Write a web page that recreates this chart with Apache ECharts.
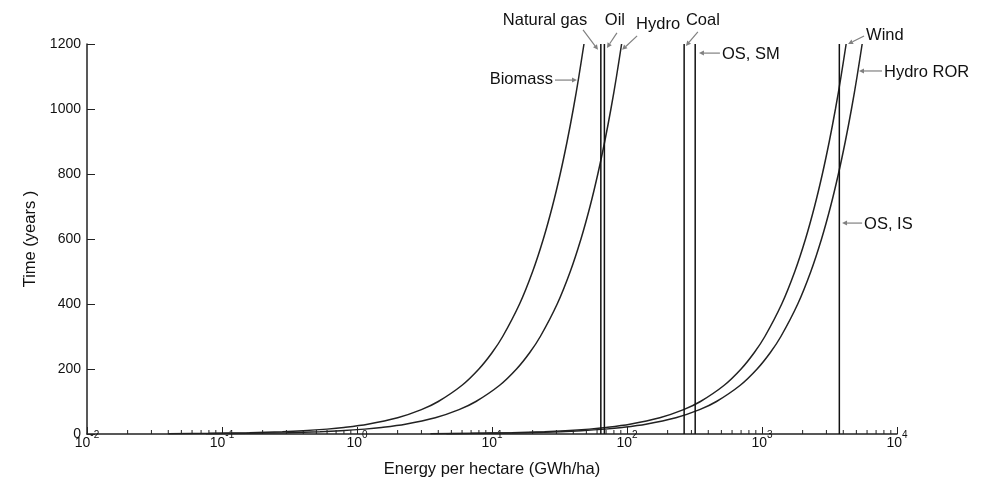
<!DOCTYPE html>
<html>
<head>
<meta charset="utf-8">
<script src="https://cdn.jsdelivr.net/npm/echarts@6/dist/echarts.min.js"></script>
<style>
  html, body { margin: 0; padding: 0; background: #fff; }
  #chart { width: 986px; height: 479px; }
</style>
</head>
<body>
<div id="chart"></div>
<script>
// Cumulative time (years) needed to harvest a given energy per hectare.
const years = [1, 2, 4, 7, 10, 15, 20, 30, 50, 75, 100, 150, 200, 250, 300, 400, 500, 600, 700, 800, 900, 1000, 1100, 1200];

const biomassEnergy = [0.04, 0.08, 0.16, 0.28, 0.4, 0.6, 0.8, 1.2, 2, 3, 4, 6, 8, 10, 12, 16, 20, 24, 28, 32, 36, 40, 44, 48];
const hydroEnergy = [0.076, 0.152, 0.304, 0.532, 0.76, 1.14, 1.52, 2.28, 3.8, 5.7, 7.6, 11.4, 15.2, 19, 22.8, 30.4, 38, 45.6, 53.2, 60.8, 68.4, 76, 83.6, 91.2];
const windEnergy = [3.5, 7, 14, 24.5, 35, 52.5, 70, 105, 175, 262.5, 350, 525, 700, 875, 1050, 1400, 1750, 2100, 2450, 2800, 3150, 3500, 3850, 4200];
const hydroRorEnergy = [4.6, 9.2, 18.4, 32.2, 46, 69, 92, 138, 230, 345, 460, 690, 920, 1150, 1380, 1840, 2300, 2760, 3220, 3680, 4140, 4600, 5060, 5520];

// One-off stocks (energy per hectare, independent of time)
const stockNames = ['Natural gas', 'Oil', 'Coal', 'OS, SM', 'OS, IS'];
const stockEnergy = [64, 68, 265, 320, 3740];
const stockYears = [0, 1200];

// Axis ticks
const yTicks = [0, 200, 400, 600, 800, 1000, 1200];
const xExponents = ['-2', '-1', '0', '1', '2', '3', '4'];

// Callout labels, anchored at a point in data space
const noteNames = ['Natural gas', 'Oil', 'Hydro', 'Coal', 'OS, SM', 'Biomass', 'Wind', 'Hydro ROR', 'OS, IS'];
const noteEnergy = [61, 71, 92, 273, 341, 42.6, 4340, 5230, 3920];
const noteYears = [1182, 1188, 1182, 1194, 1172, 1089, 1200, 1117, 649];

// Callout layout in pixels relative to the arrow tip
const noteLayout = {
  'Natural gas': { tail: [-15, -20], text: [-53, -29], align: 'center' },
  'Oil':         { tail: [10, -15],  text: [8, -27],   align: 'center' },
  'Hydro':       { tail: [15, -14],  text: [36, -25],  align: 'center' },
  'Coal':        { tail: [12, -14],  text: [17, -25],  align: 'center' },
  'OS, SM':      { tail: [21, 0],    text: [23, 1],    align: 'left' },
  'Biomass':     { tail: [-22, 0],   text: [-24, -1],  align: 'right' },
  'Wind':        { tail: [16, -8],   text: [18, -9],   align: 'left' },
  'Hydro ROR':   { tail: [23, 0],    text: [25, 1],    align: 'left' },
  'OS, IS':      { tail: [20, 0],    text: [22, 1],    align: 'left' }
};

const FONT = '"Liberation Sans", Arial, sans-serif';
const xMin = 0.01, xMax = 10000;

// Minor ticks at 2..9 within each decade of the log axis
const minorTickValues = [];
for (let d = -2; d < 4; d++) {
  for (let m = 2; m <= 9; m++) minorTickValues.push([m * Math.pow(10, d), 0]);
}

const zip = (xs, ys) => xs.map((x, i) => [x, ys[i]]);

const curveStyle = { color: '#222', width: 1.5 };
function curve(name, energy) {
  return {
    name, type: 'line', data: zip(energy, years), smooth: 0.3,
    showSymbol: false, symbol: 'none', lineStyle: curveStyle, silent: true, z: 3
  };
}

const series = [
  curve('Biomass', biomassEnergy),
  curve('Hydro', hydroEnergy),
  curve('Wind', windEnergy),
  curve('Hydro ROR', hydroRorEnergy)
];

stockNames.forEach((name, i) => {
  series.push({
    name, type: 'line',
    data: stockYears.map(t => [stockEnergy[i], t]),
    showSymbol: false, symbol: 'none',
    lineStyle: { color: '#111', width: 1.5 }, silent: true, z: 3
  });
});

// Minor ticks on the energy axis
series.push({
  type: 'custom', silent: true, clip: false, z: 5,
  data: minorTickValues,
  renderItem: (params, api) => {
    const p = api.coord([api.value(0), api.value(1)]);
    return {
      type: 'line',
      shape: { x1: p[0], y1: p[1], x2: p[0], y2: p[1] - 4 },
      style: { stroke: '#222', lineWidth: 1 }
    };
  }
});

// Callouts with grey leader arrows
series.push({
  type: 'custom', silent: true, clip: false, z: 6,
  data: zip(noteEnergy, noteYears),
  renderItem: (params, api) => {
    const name = noteNames[params.dataIndex];
    const lay = noteLayout[name];
    const tip = api.coord([api.value(0), api.value(1)]);
    const tail = [tip[0] + lay.tail[0], tip[1] + lay.tail[1]];
    const dx = tip[0] - tail[0], dy = tip[1] - tail[1];
    const len = Math.sqrt(dx * dx + dy * dy) || 1;
    const ux = dx / len, uy = dy / len;
    const ah = 5, aw = 2.5;
    const base = [tip[0] - ux * ah, tip[1] - uy * ah];
    return {
      type: 'group',
      children: [
        {
          type: 'line',
          shape: { x1: tail[0], y1: tail[1], x2: base[0], y2: base[1] },
          style: { stroke: '#808080', lineWidth: 1.2 }
        },
        {
          type: 'polygon',
          shape: { points: [tip, [base[0] - uy * aw, base[1] + ux * aw], [base[0] + uy * aw, base[1] - ux * aw]] },
          style: { fill: '#808080' }
        },
        {
          type: 'text',
          x: tip[0] + lay.text[0], y: tip[1] + lay.text[1],
          style: {
            text: name, fill: '#111', font: '16.5px ' + FONT,
            align: lay.align, verticalAlign: 'middle'
          }
        }
      ]
    };
  }
});

const chart = echarts.init(document.getElementById('chart'));
chart.setOption({
  animation: false,
  backgroundColor: '#fff',
  grid: { left: 87, right: 89, top: 44, bottom: 45, containLabel: false, outerBoundsMode: 'none' },
  xAxis: {
    type: 'log', logBase: 10, min: xMin, max: xMax,
    name: 'Energy per hectare (GWh/ha)',
    nameLocation: 'middle', nameGap: 27,
    nameTextStyle: { fontFamily: FONT, fontSize: 16.5, color: '#111' },
    axisLine: { show: true, lineStyle: { color: '#222', width: 1.5 } },
    axisTick: { show: true, inside: true, length: 7, lineStyle: { color: '#222', width: 1 } },
    minorTick: { show: false },
    splitLine: { show: false },
    axisLabel: {
      margin: -4,
      formatter: (v) => {
        const e = Math.round(Math.log10(v));
        const exp = xExponents[e + 2];
        return '{b|10}{s|' + exp + '}';
      },
      rich: {
        b: { fontFamily: FONT, fontSize: 14, color: '#111', lineHeight: 20, verticalAlign: 'bottom' },
        s: { fontFamily: FONT, fontSize: 10, color: '#111', lineHeight: 10, verticalAlign: 'top' }
      }
    }
  },
  yAxis: {
    type: 'value', min: yTicks[0], max: yTicks[yTicks.length - 1], interval: yTicks[1] - yTicks[0],
    name: 'Time (years )',
    nameLocation: 'middle', nameGap: 43,
    nameTextStyle: { fontFamily: FONT, fontSize: 16.5, color: '#111' },
    axisLine: { show: true, lineStyle: { color: '#222', width: 1.5 } },
    axisTick: { show: true, inside: true, length: 8, lineStyle: { color: '#222', width: 1 } },
    splitLine: { show: false },
    axisLabel: {
      margin: 6, fontFamily: FONT, fontSize: 14, color: '#111',
      formatter: (v) => String(v)
    }
  },
  series
});
</script>
</body>
</html>
